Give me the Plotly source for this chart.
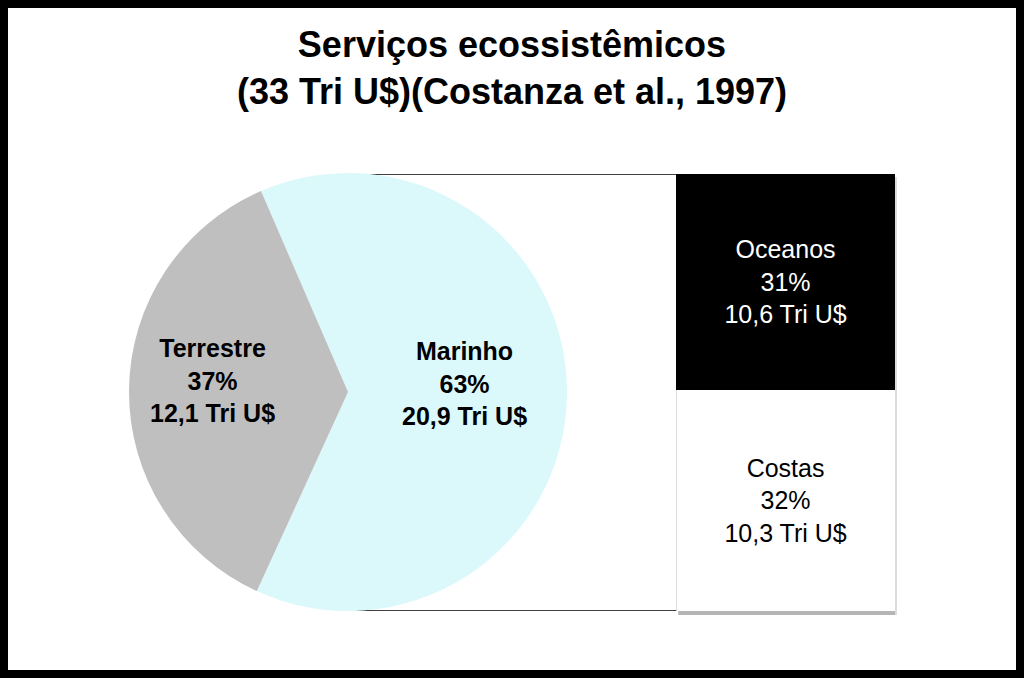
import math
import plotly.graph_objects as go

# ---- data ----
pie_labels = ["Marinho", "Terrestre"]
pie_values = [20.9, 12.1]          # Tri U$
pie_pct = [63, 37]
pie_colors = ["#dbf8fa", "#bfbfbf"]

bar_labels = ["Costas", "Oceanos"]
bar_pct = [32, 31]                  # % of total
bar_values = [10.3, 10.6]           # Tri U$
bar_colors = ["#ffffff", "#000000"]
bar_text_colors = ["#000000", "#ffffff"]

title_lines = ["Serviços ecossistêmicos", "(33 Tri U$)(Costanza et al., 1997)"]

FONT = "Liberation Sans, Arial, sans-serif"
W, H = 1024, 678

PIE_X = [129 / W, 567 / W]
PIE_Y = [67 / H, 505 / H]
PIE_ROT = -23.4
PIE_LABEL_R = [0.53, 0.62]   # label distance (fraction of radius) per slice
BAR_XDOM = [348 / W, 895 / W]
BAR_YDOM = [67 / H, 504 / H]
BAR_POS, BAR_W = 0.8, 0.4

fig = go.Figure()

# pie
fig.add_trace(go.Pie(
    labels=pie_labels, values=pie_values, sort=False, direction="clockwise",
    rotation=PIE_ROT,
    marker=dict(colors=pie_colors, line=dict(width=0)),
    textinfo="none",
    domain=dict(x=PIE_X, y=PIE_Y),
    showlegend=False, hoverinfo="label+percent",
))

# pie labels placed on each slice's bisector
annotations = []
cx_px = (PIE_X[0] + PIE_X[1]) / 2 * W
cy_px = (PIE_Y[0] + PIE_Y[1]) / 2 * H
R_px = min((PIE_X[1] - PIE_X[0]) * W, (PIE_Y[1] - PIE_Y[0]) * H) / 2
tot_pie = sum(pie_values)
start = PIE_ROT
for lab, v, pc, fr in zip(pie_labels, pie_values, pie_pct, PIE_LABEL_R):
    span = v / tot_pie * 360
    mid = math.radians(start + span / 2)
    start += span
    lx = cx_px + fr * R_px * math.sin(mid)
    ly = cy_px + fr * R_px * math.cos(mid) + 10
    annotations.append(dict(
        x=lx / W, y=ly / H, xref="paper", yref="paper", showarrow=False,
        text=f"<b>{lab}<br>{pc}%<br>{v:.1f} Tri U$</b>".replace(".", ","),
        font=dict(family=FONT, size=25, color="#000000"), align="center",
        xanchor="center", yanchor="middle",
    ))

# stacked bar (one column)
total = sum(bar_pct)
for lab, p, v, c, tc in zip(bar_labels, bar_pct, bar_values, bar_colors, bar_text_colors):
    fig.add_trace(go.Bar(
        x=[BAR_POS], y=[p], width=[BAR_W], name=lab,
        customdata=[[lab, v]],
        marker=dict(color=c, line=dict(color="#dddddd" if c == "#ffffff" else c, width=1)),
        texttemplate="%{customdata[0]}<br>%{y}%<br>%{customdata[1]:.1f} Tri U$",
        textposition="inside", insidetextanchor="middle", constraintext="none",
        textfont=dict(family=FONT, size=25, color=tc),
        xaxis="x", yaxis="y", showlegend=False,
    ))

# connector lines from pie (top / bottom) to bar
bar_left = BAR_POS - BAR_W / 2
for yv in [total, 0]:
    fig.add_trace(go.Scatter(
        x=[0, bar_left], y=[yv, yv], mode="lines",
        line=dict(color="#404040", width=2), showlegend=False, hoverinfo="skip",
        xaxis="x", yaxis="y",
    ))

# bar shadow in paper coords (derived from axis domain)
def xpaper(v):
    return BAR_XDOM[0] + v * (BAR_XDOM[1] - BAR_XDOM[0])

shadow = dict(type="rect", xref="paper", yref="paper",
              x0=xpaper(bar_left) + 2 / W, x1=xpaper(BAR_POS + BAR_W / 2) + 2 / W,
              y0=BAR_YDOM[0] - 4 / H, y1=BAR_YDOM[0] + 2 / H,
              fillcolor="#b5b5b5", line=dict(width=0), layer="below")
shadow_r = dict(type="rect", xref="paper", yref="paper",
                x0=xpaper(BAR_POS + BAR_W / 2), x1=xpaper(BAR_POS + BAR_W / 2) + 2 / W,
                y0=BAR_YDOM[0] - 4 / H, y1=BAR_YDOM[1] - 3 / H,
                fillcolor="#dcdcdc", line=dict(width=0), layer="below")

fig.update_layout(
    width=W, height=H,
    margin=dict(l=0, r=0, t=0, b=0),
    paper_bgcolor="white", plot_bgcolor="rgba(0,0,0,0)",
    barmode="stack", separators=",.",
    xaxis=dict(domain=BAR_XDOM, range=[0, 1], visible=False, fixedrange=True),
    yaxis=dict(domain=BAR_YDOM, range=[0, total], visible=False, fixedrange=True),
    title=dict(
        text="<b>" + "<br>".join(title_lines) + "</b>",
        x=0.5, xanchor="center", y=1 - 57 / H, yanchor="top", yref="paper",
        font=dict(family=FONT, size=36, color="#000000"),
    ),
    annotations=annotations,
    shapes=[
        shadow, shadow_r,
        # black frame
        dict(type="rect", xref="paper", yref="paper", x0=0, x1=1, y0=0, y1=1,
             line=dict(color="black", width=16), fillcolor="rgba(0,0,0,0)"),
    ],
)

fig.write_html("out.html")
